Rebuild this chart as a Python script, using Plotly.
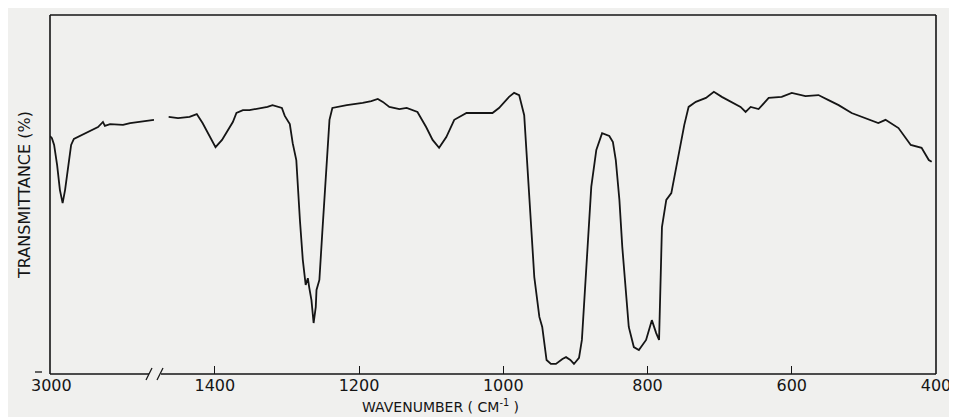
import plotly.graph_objects as go

# High-wavenumber segment (3000 cm-1 region)
wn_high = [3005, 2998, 2990, 2979, 2969, 2959, 2950, 2939, 2928, 2918, 2896, 2874, 2848,
           2830, 2812, 2805, 2786, 2761, 2739, 2713, 2684, 2659, 2626]
t_high = [66.3, 65.7, 63.8, 58.2, 51.3, 47.6, 51.3, 58.2, 63.8, 65.5, 66.3, 67.1, 68.2,
          68.8, 70.2, 69.1, 69.6, 69.6, 69.4, 69.9, 70.2, 70.5, 70.8]

# Fingerprint segment (1470 - 400 cm-1)
wn_low = [1464, 1451, 1435, 1425, 1417, 1407, 1399, 1390, 1382, 1375, 1370, 1361, 1352,
          1334, 1327, 1320, 1307, 1303, 1296, 1292, 1287, 1282, 1278, 1274, 1271, 1269,
          1266, 1263, 1260, 1259, 1255, 1251, 1245, 1241, 1237, 1217, 1195, 1183, 1174,
          1167, 1158, 1144, 1134, 1119, 1107, 1098, 1089, 1079, 1068, 1051, 1033, 1015,
          1006, 992, 985, 978, 971, 967, 964, 961, 957, 950, 946, 940, 934, 927, 918, 913,
          907, 902, 895, 891, 885, 878, 871, 863, 853, 848, 844, 839, 835, 830, 826, 819,
          812, 802, 794, 788, 784, 780, 774, 767, 761, 756, 749, 743, 733, 719, 708, 697,
          683, 671, 664, 657, 646, 632, 614, 600, 581, 563, 549, 535, 517, 498, 480, 470,
          452, 435, 420, 410, 406]
t_low = [71.6, 71.3, 71.6, 72.4, 69.9, 66.0, 63.2, 65.2, 68.0, 70.2, 72.7, 73.5, 73.5,
         74.1, 74.4, 74.9, 74.1, 71.9, 69.6, 64.3, 59.6, 42.9, 31.8, 24.8, 26.7, 24.0,
         20.6, 14.2, 18.7, 23.4, 26.2, 39.3, 59.6, 70.8, 74.1, 74.9, 75.5, 76.0, 76.6,
         75.8, 74.4, 73.8, 74.1, 73.0, 68.8, 65.2, 63.0, 66.0, 70.8, 72.7, 72.7, 72.7,
         74.1, 77.2, 78.3, 77.7, 72.1, 59.6, 50.4, 40.9, 27.0, 15.9, 13.1, 3.9, 2.8, 2.8,
         4.2, 4.7, 3.9, 2.8, 4.5, 9.5, 29.0, 52.1, 62.4, 67.1, 66.3, 64.6, 59.6, 48.5,
         35.4, 22.0, 13.1, 7.5, 6.7, 9.5, 15.0, 11.4, 9.5, 40.9, 48.5, 50.4, 56.8, 61.6,
         69.4, 74.4, 75.8, 76.9, 78.6, 77.2, 75.8, 74.4, 73.0, 74.4, 73.8, 76.9, 77.2,
         78.3, 77.4, 77.7, 76.3, 74.9, 72.7, 71.3, 69.9, 70.8, 68.5, 63.8, 63.0, 59.6, 59.1]

high_ticks = [3000]
low_ticks = [1400, 1200, 1000, 800, 600, 400]

OFF = 8  # page body margin in the browser
W, H = 957 - OFF, 417 - OFF
L, R, T, B = 50 - OFF, 936 - OFF, 15 - OFF, 374 - OFF
pw, ph = R - L, B - T

def px(x):
    # x given in reference-picture pixels
    return (x - OFF - L) / pw

def py(y):
    return (B - (y - OFF)) / ph

FONT = "DejaVu Sans"
ink = "#151515"
bg = "#f0f0ee"

fig = go.Figure()
fig.add_trace(go.Scatter(x=wn_high, y=t_high, xaxis="x", yaxis="y", mode="lines",
                         line=dict(color=ink, width=1.8), showlegend=False))
fig.add_trace(go.Scatter(x=wn_low, y=t_low, xaxis="x2", yaxis="y", mode="lines",
                         line=dict(color=ink, width=1.8), showlegend=False))

axis_common = dict(showgrid=False, zeroline=False, showline=False,
                   tickfont=dict(family=FONT, size=16, color=ink))

fig.update_layout(
    width=W, height=H,
    margin=dict(l=L, r=W - R, t=T, b=H - B, autoexpand=False),
    paper_bgcolor=bg, plot_bgcolor=bg,
    xaxis=dict(domain=[0, px(157)], range=[3005, 2615], tickvals=high_ticks,
               ticks="", **axis_common),
    xaxis2=dict(domain=[px(160), 1], range=[1476, 400], tickvals=low_ticks,
                ticks="inside", ticklen=8, tickwidth=1.3, tickcolor=ink,
                anchor="y", **axis_common),
    yaxis=dict(range=[0, 100], showgrid=False, zeroline=False, showline=False,
               showticklabels=False, ticks="",
               title=dict(text="TRANSMITTANCE (%)", standoff=14,
                          font=dict(family=FONT, size=16, color=ink))),
    annotations=[dict(text="WAVENUMBER ( CM<sup>-1</sup> )", xref="paper", yref="paper",
                      x=px(440), y=py(406), xanchor="center", yanchor="middle",
                      showarrow=False, font=dict(family=FONT, size=14, color=ink))],
)

lw = dict(color=ink, width=1.6)
shapes = [
    # frame: left, top, right
    dict(type="line", xref="paper", yref="paper", x0=0, x1=0, y0=0, y1=1, line=lw),
    dict(type="line", xref="paper", yref="paper", x0=0, x1=1, y0=1, y1=1, line=lw),
    dict(type="line", xref="paper", yref="paper", x0=1, x1=1, y0=0, y1=1, line=lw),
    # bottom axis with break
    dict(type="line", xref="paper", yref="paper", x0=0, x1=px(149), y0=0, y1=0, line=lw),
    dict(type="line", xref="paper", yref="paper", x0=px(161), x1=1, y0=0, y1=0, line=lw),
    dict(type="line", xref="paper", yref="paper", x0=px(146), x1=px(152), y0=py(380), y1=py(368),
         line=dict(color=ink, width=1.3)),
    dict(type="line", xref="paper", yref="paper", x0=px(157), x1=px(163), y0=py(380), y1=py(368),
         line=dict(color=ink, width=1.3)),
    # small mark at left of origin
    dict(type="line", xref="paper", yref="paper", x0=px(35), x1=px(42), y0=py(372), y1=py(372),
         line=dict(color=ink, width=1.3)),
]
fig.update_layout(shapes=shapes)

fig.write_html("out.html")
